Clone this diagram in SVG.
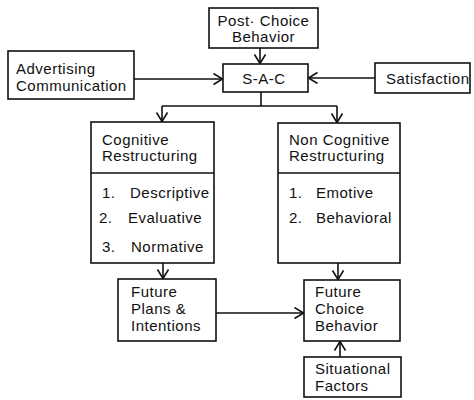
<svg xmlns="http://www.w3.org/2000/svg" width="474" height="400" viewBox="0 0 474 400">
<defs>
<style>
.box{fill:#fff;stroke:#111;stroke-width:1.6}
.ln{fill:none;stroke:#111;stroke-width:1.6}
text{font-family:"Liberation Sans",Arial,sans-serif;font-size:15px;letter-spacing:0.5px;fill:#111}
.c{text-anchor:middle}
</style>
<marker id="arr" markerUnits="userSpaceOnUse" markerWidth="14" markerHeight="14" refX="10" refY="6" orient="auto">
<path d="M1,0.5 L10,6 L1,11.5" fill="none" stroke="#111" stroke-width="1.6"/>
</marker>
</defs>
<rect width="474" height="400" fill="#fff"/>
<g id="connectors">
<line class="ln" x1="260" y1="48" x2="260" y2="63.5" marker-end="url(#arr)"/>
<line class="ln" x1="134" y1="79" x2="222.5" y2="79" marker-end="url(#arr)"/>
<line class="ln" x1="375" y1="78" x2="308.5" y2="78" marker-end="url(#arr)"/>
<polyline class="ln" points="261,92 261,106"/>
<polyline class="ln" points="162,106 337,106"/>
<line class="ln" x1="162" y1="106" x2="162" y2="121.5" marker-end="url(#arr)"/>
<line class="ln" x1="337" y1="106" x2="337" y2="122.5" marker-end="url(#arr)"/>
<line class="ln" x1="163" y1="263" x2="163" y2="278.5" marker-end="url(#arr)"/>
<line class="ln" x1="338" y1="263" x2="338" y2="279.5" marker-end="url(#arr)"/>
<line class="ln" x1="216" y1="313" x2="303.5" y2="313" marker-end="url(#arr)"/>
<line class="ln" x1="340" y1="357" x2="340" y2="341.5" marker-end="url(#arr)"/>
</g>
<g id="post-choice">
<rect class="box" x="209" y="8" width="109" height="40"/>
<text class="c" x="263.5" y="26">Post· Choice</text>
<text class="c" x="263.5" y="42">Behavior</text>
</g>
<g id="advertising">
<rect class="box" x="8" y="51" width="126" height="48"/>
<text x="16" y="74">Advertising</text>
<text x="16" y="91">Communication</text>
</g>
<g id="sac">
<rect class="box" x="223" y="64" width="85" height="28"/>
<text class="c" x="264" y="84">S-A-C</text>
</g>
<g id="satisfaction">
<rect class="box" x="375" y="63" width="95" height="30"/>
<text x="386" y="84">Satisfaction</text>
</g>
<g id="cognitive">
<rect class="box" x="91" y="122" width="123" height="141"/>
<line class="ln" x1="91" y1="173" x2="214" y2="173"/>
<text x="102" y="145">Cognitive</text>
<text x="102" y="161">Restructuring</text>
<text x="102" y="198">1.</text><text x="130" y="198">Descriptive</text>
<text x="99" y="223">2.</text><text x="128" y="223">Evaluative</text>
<text x="102" y="252">3.</text><text x="131" y="252">Normative</text>
</g>
<g id="noncognitive">
<rect class="box" x="278" y="123" width="122" height="140"/>
<line class="ln" x1="278" y1="173" x2="400" y2="173"/>
<text x="289" y="145">Non  Cognitive</text>
<text x="289" y="161">Restructuring</text>
<text x="289" y="198">1.</text><text x="316" y="198">Emotive</text>
<text x="289" y="223">2.</text><text x="316" y="223">Behavioral</text>
</g>
<g id="future-plans">
<rect class="box" x="118" y="279" width="98" height="62"/>
<text x="131" y="297">Future</text>
<text x="131" y="314">Plans  &amp;</text>
<text x="131" y="331">Intentions</text>
</g>
<g id="future-choice">
<rect class="box" x="304" y="280" width="96" height="61"/>
<text x="315" y="297">Future</text>
<text x="315" y="314">Choice</text>
<text x="315" y="331">Behavior</text>
</g>
<g id="situational">
<rect class="box" x="304" y="357" width="97" height="40"/>
<text x="315" y="374">Situational</text>
<text x="315" y="391">Factors</text>
</g>
</svg>
